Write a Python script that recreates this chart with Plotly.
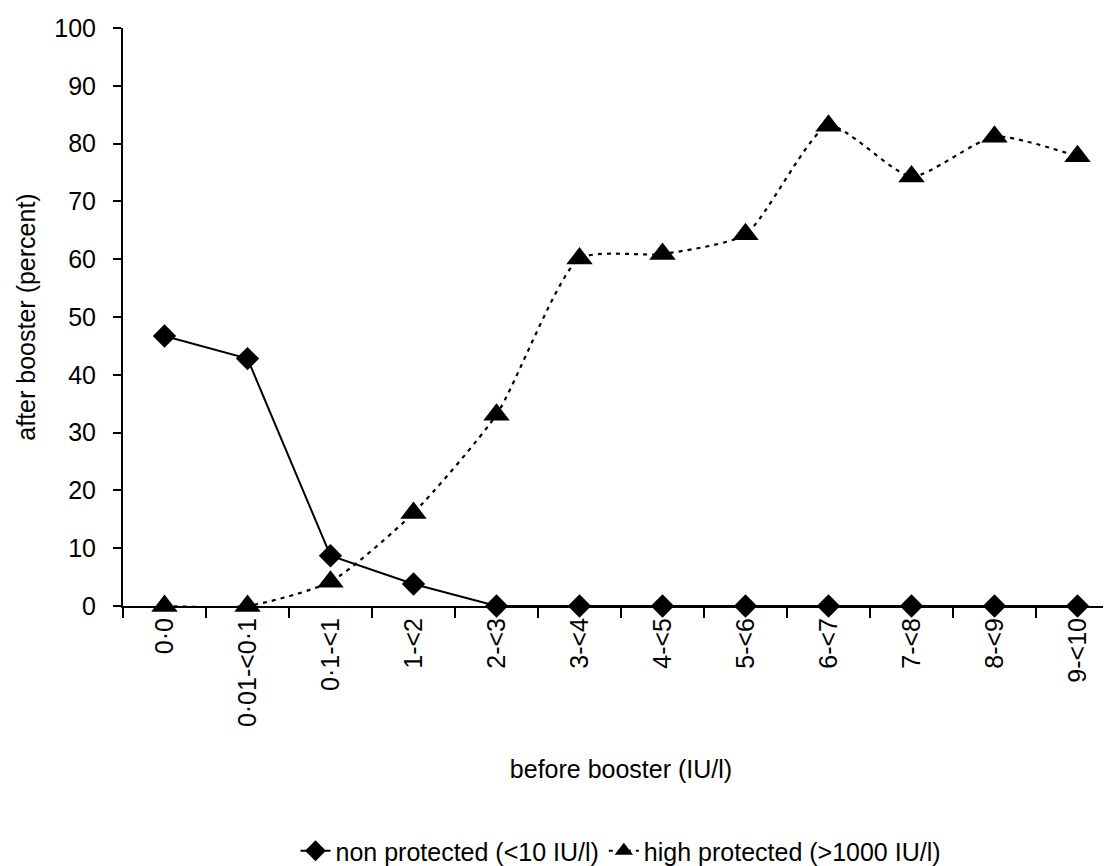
import plotly.graph_objects as go

categories = ["0·0", "0·01-<0·1", "0·1-<1", "1-<2", "2-<3", "3-<4", "4-<5",
              "5-<6", "6-<7", "7-<8", "8-<9", "9-<10"]
non_protected = [46.7, 42.8, 8.7, 3.8, 0, 0, 0, 0, 0, 0, 0, 0]
high_protected = [0, 0, 4.2, 16.1, 33.1, 60.1, 60.9, 64.3, 83.1, 74.3, 81.2, 77.8]

FONT = "Liberation Sans, Arial, sans-serif"
FS = 25

fig = go.Figure()
fig.add_trace(go.Scatter(
    x=categories, y=non_protected, mode="lines+markers",
    name="non protected (<10 IU/l)",
    line=dict(color="black", width=2),
    marker=dict(symbol="diamond", size=18, color="black"),
    cliponaxis=False,
))
fig.add_trace(go.Scatter(
    x=categories, y=high_protected, mode="lines+markers",
    name="high protected (>1000 IU/l)",
    line=dict(color="black", width=2.2, dash="4px,5px", shape="spline", smoothing=0.6),
    marker=dict(symbol="triangle-up", size=23, color="black"),
    cliponaxis=False,
))

fig.update_layout(
    width=1111, height=866,
    margin=dict(l=115, r=0, t=20, b=263),
    paper_bgcolor="white", plot_bgcolor="white",
    font=dict(family=FONT, size=FS, color="black"),
    showlegend=True,
    legend=dict(orientation="h", x=0.5, xanchor="center", y=-0.424, yanchor="middle",
                font=dict(size=FS), itemwidth=30, bgcolor="rgba(0,0,0,0)"),
)
fig.update_xaxes(
    type="category", range=[-0.5, 11.5],
    showline=True, linecolor="black", linewidth=2,
    ticks="outside", tickson="boundaries", ticklen=10, tickwidth=2, tickcolor="black",
    tickangle=-90, tickfont=dict(size=FS),
    showgrid=False, zeroline=False,
    title=dict(text="before booster (IU/l)", font=dict(size=FS), standoff=34),
)
fig.update_yaxes(
    range=[0, 100], dtick=10, tick0=0,
    showline=True, linecolor="black", linewidth=2,
    ticks="outside", ticklen=8, tickwidth=2, tickcolor="black",
    tickfont=dict(size=FS), ticklabelstandoff=12,
    showgrid=False, zeroline=False,
    title=dict(text="after booster (percent)", font=dict(size=FS), standoff=12),
)

fig.write_html("out.html")
